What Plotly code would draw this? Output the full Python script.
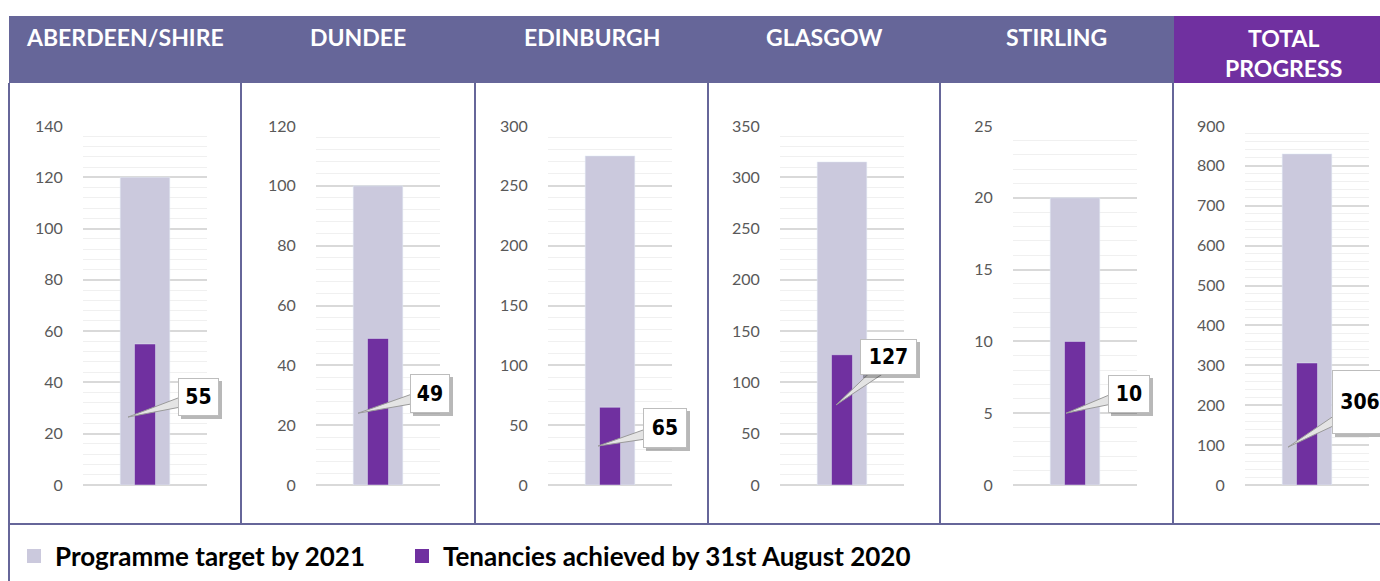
import plotly.graph_objects as go

# ---------------- data ----------------
regions = ["ABERDEEN/SHIRE", "DUNDEE", "EDINBURGH", "GLASGOW", "STIRLING", "TOTAL<br>PROGRESS"]
target_2021 = [120, 100, 275, 315, 20, 830]
achieved_aug2020 = [55, 49, 65, 127, 10, 306]
y_max = [140, 120, 300, 350, 25, 900]
y_step = [20, 20, 50, 50, 5, 100]
legend_labels = ["Programme target by 2021", "Tenancies achieved by 31st August 2020"]

# ---------------- style ----------------
W, H = 1380, 581
C_TARGET = "#CBC9DD"
C_ACHIEVED = "#7030A0"
C_HEADER = "#666699"
C_TOTAL = "#7030A0"

def px(x):
    return x / W

def py(y):
    return 1 - y / H

plot_left = [83, 316, 548, 780, 1013, 1245]
plot_w = 124
plot_top, plot_bot = 126, 485
panel_edges = [9, 241, 475, 708, 940, 1173, 1393]

# callout layout: tip (value on axis, px offset from bar centre), box centre offset (px, up), box size, wedge side
callouts = [
    dict(tip=26.5, dx=-17, bx=70, by=20, w=41, h=38, side="left"),
    dict(tip=24, dx=-20, bx=72, by=20, w=40, h=39, side="left"),
    dict(tip=32.6, dx=-12, bx=67, by=18, w=44, h=40, side="left"),
    dict(tip=78, dx=-6, bx=53, by=48, w=57, h=36, side="bottom"),
    dict(tip=5.0, dx=-9, bx=63, by=19, w=42, h=38, side="left"),
    dict(tip=95, dx=-19, bx=72, by=45, w=56, h=64, side="left"),
]

fig = go.Figure()
layout = dict(
    width=W, height=H, autosize=False,
    margin=dict(l=0, r=0, t=0, b=0, pad=0, autoexpand=False),
    paper_bgcolor="white", plot_bgcolor="white",
    barmode="overlay", showlegend=False,
    font=dict(family="Lato, sans-serif"),
)
shapes = []
annotations = []

ydom = [py(plot_bot), py(plot_top)]
for i, name in enumerate(regions):
    k = "" if i == 0 else str(i + 1)
    xa, ya = "x" + k, "y" + k
    cat = [name.replace("<br>", " ")]
    fig.add_trace(go.Bar(x=cat, y=[target_2021[i]], width=0.4, marker_color=C_TARGET,
                         name=legend_labels[0], xaxis=xa, yaxis=ya, hoverinfo="y"))
    fig.add_trace(go.Bar(x=cat, y=[achieved_aug2020[i]], width=0.17, marker_color=C_ACHIEVED,
                         name=legend_labels[1], xaxis=xa, yaxis=ya, hoverinfo="y"))
    layout["xaxis" + k] = dict(
        domain=[px(plot_left[i]), px(plot_left[i] + plot_w)], anchor=ya,
        type="category", range=[-0.5, 0.5], showticklabels=False, automargin=False,
        showgrid=False, zeroline=False, showline=False, fixedrange=True,
    )
    layout["yaxis" + k] = dict(
        domain=ydom, anchor=xa, range=[0, y_max[i]], dtick=y_step[i], tick0=0, automargin=False,
        showgrid=True, gridcolor="#D9D9D9", gridwidth=1.5,
        zeroline=True, zerolinecolor="#D9D9D9", zerolinewidth=1.5,
        minor=dict(dtick=y_step[i] / 5, showgrid=True, gridcolor="#F0F0F0", gridwidth=1),
        ticks="outside", ticklen=16, tickcolor="rgba(0,0,0,0)",
        tickfont=dict(family="Lato, sans-serif", size=16, color="#595959"),
        showline=False, fixedrange=True,
    )

    # callout
    c = callouts[i]
    x0 = c["dx"]
    bl = c["bx"] - c["w"] / 2
    bb = c["by"] - c["h"] / 2
    if c["side"] == "left":
        p1 = (bl + 3, bb + 9)
        p2 = (bl + 3, bb + 19)
    else:
        p1 = (bl + 10, bb + 3)
        p2 = (bl + 25, bb + 3)
    path = f"M {x0},0 L {x0 + p1[0]},{p1[1]} L {x0 + p2[0]},{p2[1]} Z"
    shapes.append(dict(type="path", xref=xa, yref=ya, xsizemode="pixel", ysizemode="pixel",
                       xanchor=0, yanchor=c["tip"], path=path,
                       fillcolor="#E4E4E4", line=dict(color="#9A9A9A", width=1), layer="above"))
    # shadow
    annotations.append(dict(xref=xa, yref=ya, x=0, y=c["tip"], showarrow=False,
                            xshift=x0 + c["bx"] + 3, yshift=c["by"] - 3,
                            text="", width=c["w"], height=c["h"], bgcolor="rgba(0,0,0,0.28)",
                            borderpad=0, borderwidth=0))
    annotations.append(dict(xref=xa, yref=ya, x=0, y=c["tip"], showarrow=False,
                            xshift=x0 + c["bx"], yshift=c["by"],
                            text=f"<b>{achieved_aug2020[i]}</b>",
                            font=dict(family="Liberation Sans Narrow, Arial Narrow, DejaVu Sans Condensed, sans-serif",
                                      size=21, color="black"),
                            width=c["w"] - 2, height=c["h"] - 2, bgcolor="white",
                            bordercolor="#BDBDBD", borderwidth=1, borderpad=0, valign="middle"))

    # header text
    cx = (panel_edges[i] + panel_edges[i + 1]) / 2 if i < 5 else 1283
    hy = 37 if i < 5 else 52.5
    annotations.append(dict(xref="paper", yref="paper", x=px(cx), y=py(hy), showarrow=False,
                            text=f"<b>{name}</b>", xanchor="center", yanchor="middle",
                            font=dict(family="Lato, sans-serif", size=23, color="white")))

# header bands
shapes.insert(0, dict(type="rect", xref="paper", yref="paper", x0=px(9), x1=1, y0=py(83), y1=py(16),
                      fillcolor=C_HEADER, line=dict(width=0), layer="below"))
shapes.insert(1, dict(type="rect", xref="paper", yref="paper", x0=px(1174), x1=1, y0=py(83), y1=py(16),
                      fillcolor=C_TOTAL, line=dict(width=0), layer="below"))
# panel borders
for e in panel_edges[1:6]:
    shapes.append(dict(type="line", xref="paper", yref="paper", x0=px(e), x1=px(e), y0=py(83), y1=py(524),
                       line=dict(color=C_HEADER, width=2)))
shapes.append(dict(type="line", xref="paper", yref="paper", x0=px(9), x1=px(9), y0=py(83), y1=0,
                   line=dict(color=C_HEADER, width=2)))
shapes.append(dict(type="line", xref="paper", yref="paper", x0=px(9), x1=1, y0=py(524), y1=py(524),
                   line=dict(color=C_HEADER, width=2)))

# legend (manual)
leg_sq = [27, 415]
leg_txt = [53, 441]
leg_col = [C_TARGET, C_ACHIEVED]
for j in range(2):
    shapes.append(dict(type="rect", xref="paper", yref="paper", x0=px(leg_sq[j]), x1=px(leg_sq[j] + 14),
                       y0=py(563), y1=py(549), fillcolor=leg_col[j], line=dict(width=0)))
    annotations.append(dict(xref="paper", yref="paper", x=px(leg_txt[j]), y=py(556), showarrow=False,
                            xanchor="left", yanchor="middle", text=f"<b>{legend_labels[j]}</b>",
                            font=dict(family="Lato, sans-serif", size=26, color="black")))

layout["shapes"] = shapes
layout["annotations"] = annotations
fig.update_layout(**layout)
fig.write_html("out.html", config={"displayModeBar": False},
               post_script="document.body.style.margin='0';document.body.style.overflow='hidden';")
